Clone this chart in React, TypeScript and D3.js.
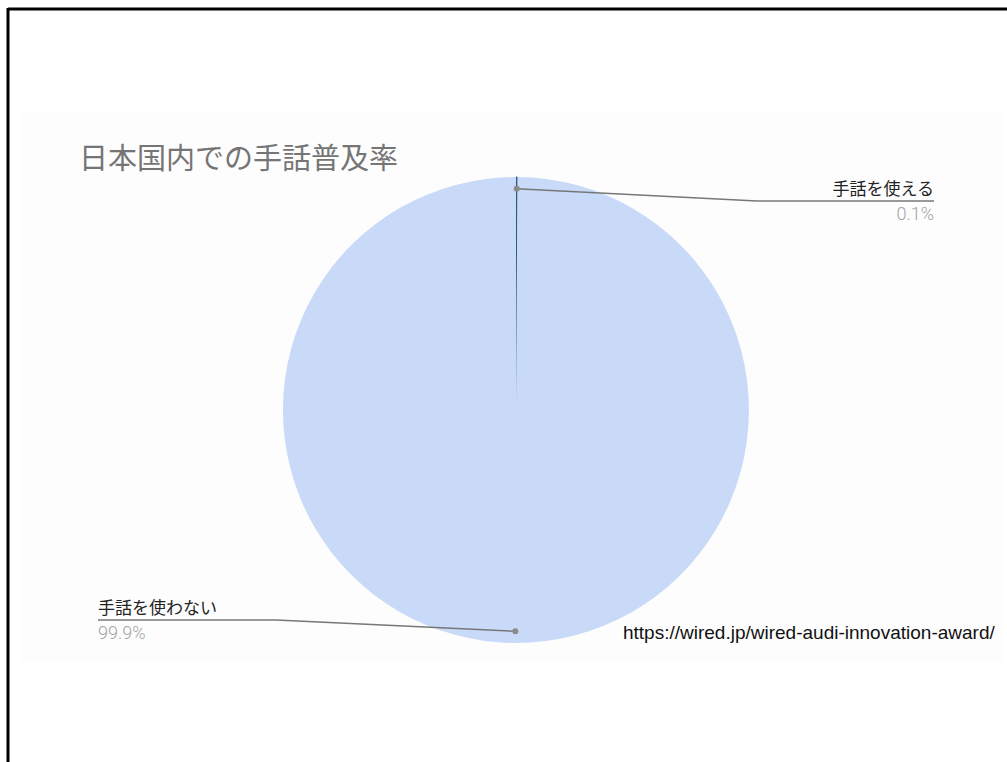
import React from "react";
import * as d3 from "d3";

const categories = ["手話を使える", "手話を使わない"];
const values = [0.1, 99.9];
const percentLabels = ["0.1%", "99.9%"];
const colors = ["#2c5a85", "#c8daf8"];
const title = "日本国内での手話普及率";
const sourceText = "https://wired.jp/wired-audi-innovation-award/";

const W = 1007;
const H = 762;

export default function App() {
  const cx = 516;
  const cy = 410;
  const r = 233;
  const pie = d3.pie<number>().sort(null).value((d) => d)(values);
  const arc = d3.arc<d3.PieArcDatum<number>>().innerRadius(0).outerRadius(r);
  const dotArc = d3.arc<d3.PieArcDatum<number>>().innerRadius(r * 0.95).outerRadius(r * 0.95);

  const layouts = [
    { side: "right", x: 934, y: 201, elbow: 757 },
    { side: "left", x: 98, y: 620, elbow: 276 },
  ];
  const font = "'Noto Sans CJK JP', 'Noto Sans', sans-serif";

  return (
    <svg width={W} height={H} style={{ position: "absolute", left: 0, top: 0, background: "#fff" }}>
      <rect x={0} y={0} width={W} height={H} fill="#ffffff" />
      <rect x={20} y={112} width={983} height={550} fill="#fdfdfd" />
      <line x1={8} y1={9} x2={W} y2={9} stroke="#000" strokeWidth={3} />
      <line x1={8} y1={8} x2={8} y2={H} stroke="#000" strokeWidth={3} />
      <text x={79} y={169} fontFamily={font} fontSize={29} fill="#757575">
        {title}
      </text>
      <g transform={`translate(${cx},${cy})`}>
        {pie.map((p, i) => (
          <path key={i} d={arc(p) || ""} fill={colors[i]} stroke={i === 0 ? colors[0] : "none"} strokeWidth={i === 0 ? 0.8 : 0} />
        ))}
      </g>
      {pie.map((p, i) => {
        const [dx, dy] = dotArc.centroid(p);
        const px = cx + dx;
        const py = cy + dy;
        const L = layouts[i];
        const right = L.side === "right";
        const x0 = right ? L.elbow : L.x;
        const x1 = right ? L.x : L.elbow;
        return (
          <g key={"l" + i}>
            <polyline
              points={`${px},${py} ${L.elbow},${L.y}`}
              fill="none"
              stroke="#777"
              strokeWidth={1.5}
            />
            <line x1={x0} y1={L.y} x2={x1} y2={L.y} stroke="#777" strokeWidth={1.5} />
            <circle cx={px} cy={py} r={3} fill="#8a8a8a" />
            <text x={L.x} y={L.y - 6} textAnchor={right ? "end" : "start"} fontFamily={font} fontSize={17} fill="#222">
              {categories[i]}
            </text>
            <text x={L.x} y={L.y + 19} textAnchor={right ? "end" : "start"} fontFamily="Roboto, 'Liberation Sans', sans-serif" fontWeight={300} fontSize={18} fill="#a5a5a5">
              {percentLabels[i]}
            </text>
          </g>
        );
      })}
      <text x={623} y={639} fontFamily="'Liberation Sans', Arial, sans-serif" fontSize={19} fill="#111">
        {sourceText}
      </text>
    </svg>
  );
}
